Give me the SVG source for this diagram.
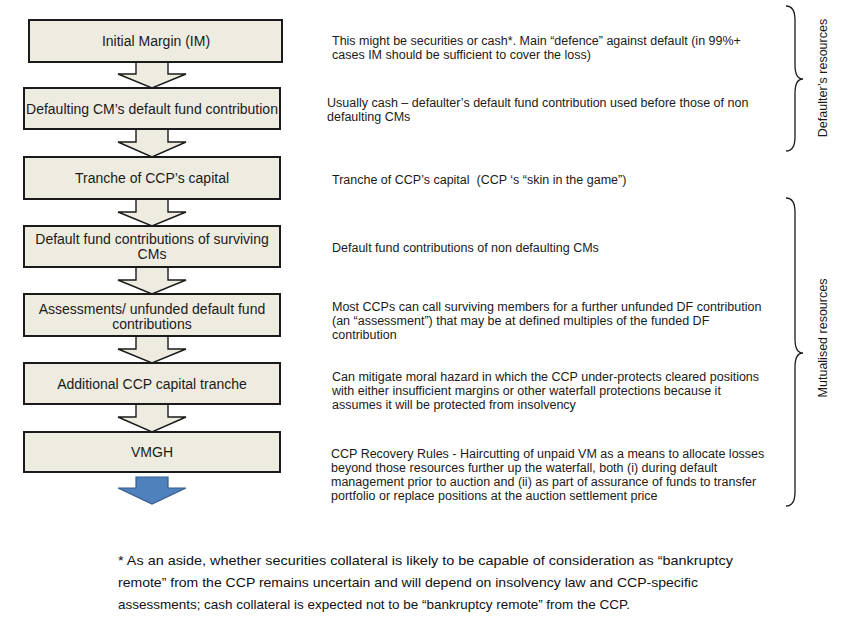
<svg xmlns="http://www.w3.org/2000/svg" width="850" height="625" viewBox="0 0 850 625">
<style>
.box{fill:#eeece1;stroke:#1a1a1a;stroke-width:2}
.arr{fill:#eeece1;stroke:#1a1a1a;stroke-width:1.4;stroke-linejoin:miter}
.blue{fill:#4f81bd;stroke:#385d8a;stroke-width:1.2}
.bt{font-family:"Liberation Sans",Arial,sans-serif;font-size:14px;fill:#1a1a1a;text-anchor:middle}
.rt{font-family:"Liberation Sans",Arial,sans-serif;font-size:12.5px;fill:#1a1a1a}
.vt{font-family:"Liberation Sans",Arial,sans-serif;font-size:12.5px;fill:#1a1a1a;text-anchor:middle}
.fn{font-family:"Liberation Sans",Arial,sans-serif;font-size:13px;fill:#111}
.brace{fill:none;stroke:#1a1a1a;stroke-width:1.3}
</style>
<rect width="850" height="625" fill="#ffffff"/>
<g id="connectors">
<path class="arr" d="M136,62 V74 H118 L152,88 L186,74 H168 V62"/>
<path class="arr" d="M136,129 V142 H118 L152,157 L186,142 H168 V129"/>
<path class="arr" d="M136,199 V212 H118 L152,226 L186,212 H168 V199"/>
<path class="arr" d="M136,267 V280 H118 L152,294 L186,280 H168 V267"/>
<path class="arr" d="M136,336 V349 H118 L152,363 L186,349 H168 V336"/>
<path class="arr" d="M136,404 V417 H118 L152,432 L186,417 H168 V404"/>
<path class="blue" d="M136,477 V488 H118 L152,504 L186,488 H168 V477 Z"/>
</g>
<g id="n1"><rect class="box" x="29" y="20" width="253" height="42"/><text class="bt" x="156" y="46">Initial Margin (IM)</text></g>
<g id="n2"><rect class="box" x="24" y="88" width="256" height="41"/><text class="bt" x="152" y="113.5">Defaulting CM’s default fund contribution</text></g>
<g id="n3"><rect class="box" x="24" y="157" width="256" height="42"/><text class="bt" x="152" y="183">Tranche of CCP’s capital</text></g>
<g id="n4"><rect class="box" x="24" y="226" width="256" height="41"/><text class="bt" x="152" y="244">Default fund contributions of surviving</text><text class="bt" x="152" y="259">CMs</text></g>
<g id="n5"><rect class="box" x="24" y="294" width="256" height="42"/><text class="bt" x="152" y="314">Assessments/ unfunded default fund</text><text class="bt" x="152" y="329">contributions</text></g>
<g id="n6"><rect class="box" x="24" y="363" width="256" height="41"/><text class="bt" x="152" y="388.5">Additional CCP capital tranche</text></g>
<g id="n7"><rect class="box" x="24" y="432" width="256" height="40"/><text class="bt" x="152" y="457">VMGH</text></g>
<g id="descriptions">
<text class="rt" x="332" y="45">This might be securities or cash*. Main “defence” against default (in 99%+</text>
<text class="rt" x="332" y="59">cases IM should be sufficient to cover the loss)</text>
<text class="rt" x="327" y="107">Usually cash – defaulter’s default fund contribution used before those of non</text>
<text class="rt" x="327" y="121">defaulting CMs</text>
<text class="rt" x="332" y="184" xml:space="preserve">Tranche of CCP’s capital  (CCP ‘s “skin in the game”)</text>
<text class="rt" x="332" y="252">Default fund contributions of non defaulting CMs</text>
<text class="rt" x="332" y="311">Most CCPs can call surviving members for a further unfunded DF contribution</text>
<text class="rt" x="332" y="325">(an “assessment”) that may be at defined multiples of the funded DF</text>
<text class="rt" x="332" y="339">contribution</text>
<text class="rt" x="332" y="381">Can mitigate moral hazard in which the CCP under-protects cleared positions</text>
<text class="rt" x="332" y="395">with either insufficient margins or other waterfall protections because it</text>
<text class="rt" x="332" y="409">assumes it will be protected from insolvency</text>
<text class="rt" x="331" y="458">CCP Recovery Rules - Haircutting of unpaid VM as a means to allocate losses</text>
<text class="rt" x="331" y="472">beyond those resources further up the waterfall, both (i) during default</text>
<text class="rt" x="331" y="486">management prior to auction and (ii) as part of assurance of funds to transfer</text>
<text class="rt" x="331" y="500">portfolio or replace positions at the auction settlement price</text>
</g>
<g id="braces">
<path class="brace" d="M786,6 Q795,6 795,20 V65 Q795,79 803,79 Q795,79 795,93 V137 Q795,151 786,151"/>
<path class="brace" d="M786,198 Q795,198 795,212 V339 Q795,353 803,353 Q795,353 795,367 V492 Q795,506 786,506"/>
<text class="vt" transform="translate(827,78) rotate(-90)">Defaulter’s resources</text>
<text class="vt" transform="translate(827,338) rotate(-90)">Mutualised resources</text>
</g>
<g id="footnote">
<text class="fn" x="118" y="565" textLength="615" lengthAdjust="spacingAndGlyphs">* As an aside, whether securities collateral is likely to be capable of consideration as “bankruptcy</text>
<text class="fn" x="118" y="587" textLength="580" lengthAdjust="spacingAndGlyphs">remote” from the CCP remains uncertain and will depend on insolvency law and CCP-specific</text>
<text class="fn" x="118" y="609" textLength="512" lengthAdjust="spacingAndGlyphs">assessments; cash collateral is expected not to be “bankruptcy remote” from the CCP.</text>
</g>
</svg>
